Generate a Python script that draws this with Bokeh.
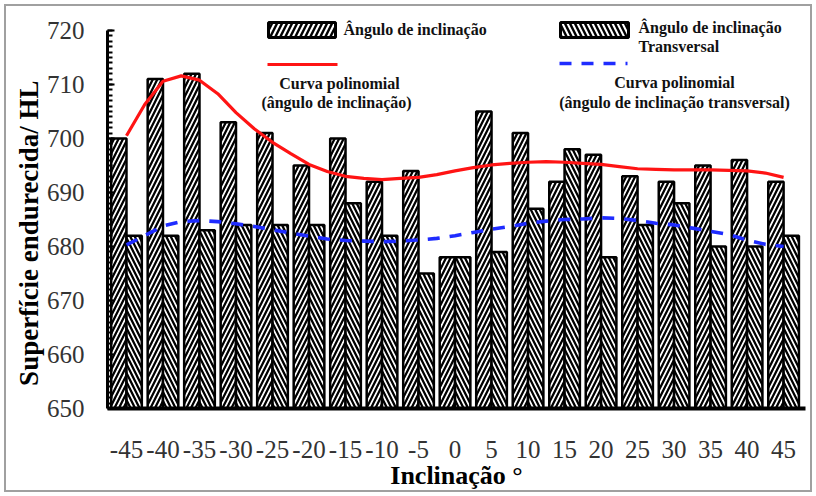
from bokeh.embed import file_html
from bokeh.models import ColumnDataSource, FixedTicker, InlineStyleSheet, Label, Range1d
from bokeh.plotting import figure
from bokeh.resources import INLINE
from bokeh.transform import dodge

# Inclination categories (degrees) and hardness readings (HL)
angles = ["-45", "-40", "-35", "-30", "-25", "-20", "-15", "-10", "-5", "0",
          "5", "10", "15", "20", "25", "30", "35", "40", "45"]
tilt = [700, 711, 712, 703, 701, 695, 700, 692, 694, 678,
        705, 701, 692, 697, 693, 692, 695, 696, 692]
transverse = [682, 682, 683, 684, 684, 684, 688, 682, 675, 678,
              679, 687, 698, 678, 684, 688, 680, 680, 682]

# Polynomial trend curves, sampled every 2.5 degrees
curve_angles = [-45, -42.5, -40, -37.5, -35, -32.5, -30, -27.5, -25, -22.5,
                -20, -17.5, -15, -12.5, -10, -7.5, -5, -2.5, 0, 2.5,
                5, 7.5, 10, 12.5, 15, 17.5, 20, 22.5, 25, 27.5,
                30, 32.5, 35, 37.5, 40, 42.5, 45]
tilt_fit = [700.5, 706.3, 710.6, 711.6, 710.8, 708.3, 704.8, 701.8, 699.3, 697.2,
            695.2, 693.9, 693.0, 692.6, 692.4, 692.6, 692.8, 693.3, 694.0, 694.6,
            695.1, 695.4, 695.6, 695.7, 695.6, 695.4, 695.2, 694.8, 694.4, 694.3,
            694.2, 694.2, 694.2, 694.1, 694.0, 693.6, 692.8]
transverse_fit = [680.3, 682.0, 683.8, 684.6, 684.8, 684.6, 684.2, 683.7, 683.1, 682.5,
                  681.9, 681.4, 681.1, 681.0, 680.9, 681.0, 681.2, 681.5, 682.0, 682.6,
                  683.2, 683.7, 684.3, 684.7, 685.0, 685.1, 685.3, 685.2, 684.8, 684.3,
                  684.0, 683.4, 682.8, 682.2, 681.2, 680.4, 680.0]

y_ticks = [650, 660, 670, 680, 690, 700, 710, 720]

# Canvas / frame geometry (pixels)
W, H = 816, 496
FRAME_L, FRAME_R, FRAME_T, FRAME_B = 107, 805, 10, 408
PX_PER_HL = 5.4
X_START, X_END = -0.52, 18.6
Y_START = 650
Y_END = Y_START + (FRAME_B - FRAME_T) / PX_PER_HL


def dx(px):
    return X_START + (px - FRAME_L) * (X_END - X_START) / (FRAME_R - FRAME_L)


def dy(py):
    return Y_START + (FRAME_B - py) / PX_PER_HL


SERIF = "'Liberation Serif', 'Times New Roman', serif"

p = figure(width=W, height=H, output_backend="svg", toolbar_location=None,
           x_range=Range1d(X_START, X_END), y_range=Range1d(Y_START, Y_END),
           min_border_left=FRAME_L, min_border_right=W - FRAME_R,
           min_border_top=FRAME_T, min_border_bottom=H - FRAME_B)
p.outline_line_color = None
p.grid.visible = False
p.background_fill_color = "white"
p.border_fill_color = "white"
# thin grey frame around the whole picture
p.stylesheets = [InlineStyleSheet(css="""
:host { position: relative; }
:host::after {
  content: ""; position: absolute; left: 4px; top: 4px; right: 4px; bottom: 4px;
  border: 2px solid #a0a0a0; pointer-events: none; z-index: 50;
}
""")]

pos = list(range(len(angles)))
src = ColumnDataSource(dict(pos=pos, tilt=tilt, transverse=transverse))

bar_style = dict(bottom=Y_START, width=0.42, fill_color="white", line_color="black",
                 line_width=2.5, hatch_color="black", hatch_weight=2.3, hatch_scale=9)
p.vbar(x=dodge("pos", -0.21, range=p.x_range), top="tilt", source=src,
       hatch_pattern="/", **bar_style)
p.vbar(x=dodge("pos", 0.21, range=p.x_range), top="transverse", source=src,
       hatch_pattern="\\", **bar_style)

curve_pos = [(a + 45) / 5 for a in curve_angles]
p.line(curve_pos, tilt_fit, line_color="#ff1414", line_width=3.2)
p.line(curve_pos, transverse_fit, line_color="#1f2cff", line_width=3.6, line_dash="12 10")

# Axes
p.xaxis.ticker = FixedTicker(ticks=pos)
p.xaxis.major_label_overrides = {i: a for i, a in enumerate(angles)}
p.xaxis.axis_line_width = 4
p.xaxis.axis_line_color = "black"
p.xaxis.major_tick_line_color = None
p.xaxis.minor_tick_line_color = None
p.xaxis.major_label_standoff = 26
p.xaxis.axis_label = "Inclinação °"
p.xaxis.axis_label_standoff = 0

p.yaxis.ticker = FixedTicker(ticks=y_ticks, minor_ticks=list(range(650, 721)))
p.yaxis.bounds = (650, 720)
p.yaxis.axis_line_width = 3
p.yaxis.axis_line_color = "black"
p.yaxis.major_tick_in = 7
p.yaxis.major_tick_out = 0
p.yaxis.minor_tick_in = 5
p.yaxis.minor_tick_out = 0
p.yaxis.major_tick_line_width = 2
p.yaxis.minor_tick_line_width = 2
p.yaxis.major_label_standoff = 23
# trailing no-break spaces nudge the rotated title a little further down
p.yaxis.axis_label = "Superfície endurecida/ HL" + "\u00a0" * 7
p.yaxis.axis_label_standoff = 0

for ax in (p.xaxis, p.yaxis):
    ax.major_label_text_font = SERIF
    ax.major_label_text_font_size = "25px"
    ax.major_label_text_color = "#333333"
    ax.axis_label_text_font = SERIF
    ax.axis_label_text_font_style = "bold"
    ax.axis_label_text_color = "black"
p.xaxis.axis_label_text_font_size = "26px"
p.yaxis.axis_label_text_font_size = "27px"

# Legend
legend_patch = dict(fill_color="white", line_color="black", line_width=3,
                    hatch_color="black", hatch_weight=2.4, hatch_scale=10)
p.quad(left=dx(268), right=dx(335), top=dy(22), bottom=dy(37), hatch_pattern="/", **legend_patch)
p.quad(left=dx(560), right=dx(628), top=dy(22), bottom=dy(37), hatch_pattern="\\", **legend_patch)
p.line([dx(267), dx(337)], [dy(64), dy(64)], line_color="#ff1414", line_width=3.2)
p.line([dx(559), dx(627)], [dy(63), dy(63)], line_color="#1f2cff", line_width=3.6,
       line_dash="12 10")

legend_text = [
    (343, 29, "left", "Ângulo de inclinação"),
    (339, 83, "center", "Curva polinomial"),
    (336, 102, "center", "(ângulo de inclinação)"),
    (638, 27, "left", "Ângulo de inclinação"),
    (638, 46, "left", "Transversal"),
    (674, 82, "center", "Curva polinomial"),
    (674, 102, "center", "(ângulo de inclinação transversal)"),
]
for px, py, align, txt in legend_text:
    p.add_layout(Label(x=dx(px), y=dy(py), text=txt, text_align=align,
                       text_baseline="middle", text_font=SERIF, text_font_style="bold",
                       text_font_size="16px", text_color="#111111"))

open("out.html", "w").write(file_html(p, INLINE))
